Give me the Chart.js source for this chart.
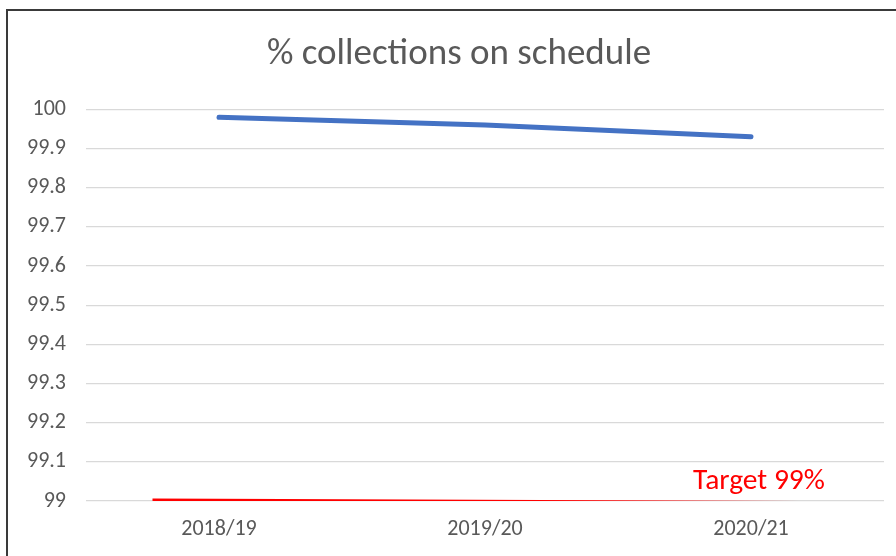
<!DOCTYPE html>
<html>
<head>
<meta charset="utf-8">
<script src="https://cdn.jsdelivr.net/npm/chart.js@4/dist/chart.umd.min.js"></script>
<style>
  html, body { margin: 0; padding: 0; background: #fff; }
  body { width: 896px; height: 556px; position: relative; overflow: hidden; }
  #frame { position: absolute; left: 6px; top: 9px; right: 0; bottom: 0; border-left: 2px solid #3a3a3a; border-top: 2px solid #3a3a3a; }
  #wrap { position: absolute; left: 9px; top: 12px; width: 887px; height: 544px; }
</style>
</head>
<body>
<div id="frame"></div>
<div id="wrap"><canvas id="scheduleChart"></canvas></div>
<script>
// values
const years = ['2018/19', '2019/20', '2020/21'];
const onSchedule = [99.98, 99.96, 99.93];
const targetSpan = [0.25, 2.68];      // where the target line starts/ends (category units)
const targetValues = [99.003, 98.997];
const yTickLabels = ['99', '99.1', '99.2', '99.3', '99.4', '99.5', '99.6', '99.7', '99.8', '99.9', '100'];

const fontFamily = "Carlito, 'Liberation Sans Narrow', 'Noto Sans', sans-serif";

// red "Target 99%" note drawn next to the target line
const targetLabel = {
    id: 'targetLabel',
    afterDatasetsDraw(chart) {
        const c = chart.ctx;
        const x = chart.scales.x2.getPixelForValue(2.53);
        const y = chart.scales.y.getPixelForValue(99.05);
        c.save();
        c.font = '29.5px ' + fontFamily;
        c.fillStyle = '#ff0000';
        c.textAlign = 'center';
        c.textBaseline = 'middle';
        c.fillText('Target 99%', x, y);
        c.restore();
    }
};

document.addEventListener("DOMContentLoaded", function () {
    const ctx = document.getElementById("scheduleChart");

    new Chart(ctx, {
        type: 'line',
        data: {
            labels: years,
            datasets: [
                {
                    label: '% collections on schedule',
                    data: onSchedule,
                    borderColor: '#4472c4',
                    borderWidth: 5,
                    borderCapStyle: 'round',
                    pointRadius: 0,
                    tension: 0
                },
                {
                    label: 'Target',
                    xAxisID: 'x2',
                    data: targetSpan.map((x, i) => ({ x: x, y: targetValues[i] })),
                    borderColor: '#ff0000',
                    borderWidth: 2.5,
                    pointRadius: 0,
                    tension: 0
                }
            ]
        },
        options: {
            responsive: true,
            maintainAspectRatio: false,
            animation: false,
            layout: { padding: { left: 13, right: 0, top: 16, bottom: 0 } },
            plugins: {
                legend: { display: false },
                tooltip: { enabled: false },
                title: {
                    display: true,
                    text: '% collections on schedule',
                    color: '#595959',
                    font: { family: fontFamily, size: 37, weight: 'normal' },
                    padding: { top: 5, bottom: 32 }
                }
            },
            scales: {
                x: {
                    type: 'category',
                    offset: true,
                    grid: { display: false, drawTicks: false },
                    border: { display: false },
                    ticks: {
                        color: '#595959',
                        font: { family: fontFamily, size: 22 },
                        padding: 15,
                        maxRotation: 0
                    },
                    afterFit: function (scale) { scale.height = 55; }
                },
                x2: {
                    type: 'linear',
                    display: false,
                    min: 0,
                    max: 3
                },
                y: {
                    min: 99,
                    max: 100,
                    ticks: {
                        stepSize: 0.1,
                        color: '#595959',
                        font: { family: fontFamily, size: 22 },
                        padding: 20,
                        callback: function (value, index) { return yTickLabels[index]; }
                    },
                    grid: { color: '#d9d9d9', lineWidth: 1.3, drawTicks: false },
                    border: { display: false },
                    afterFit: function (scale) { scale.width = 64; }
                },
                // empty strip on the right so the plot stops short of the edge
                yRight: {
                    position: 'right',
                    grid: { display: false, drawTicks: false },
                    border: { display: false },
                    ticks: { display: false },
                    afterFit: function (scale) { scale.width = 12; }
                }
            }
        },
        plugins: [targetLabel]
    });
});
</script>
</body>
</html>
